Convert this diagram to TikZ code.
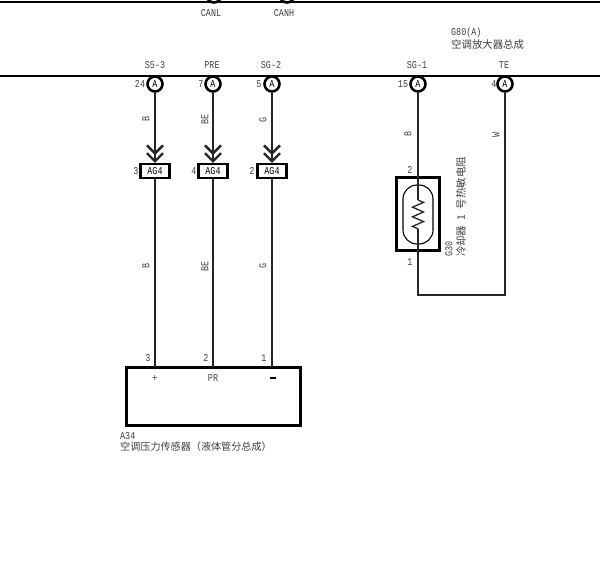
\documentclass[tikz,border=0pt]{standalone}
\usepackage{fontspec}
\setmainfont[FakeStretch=0.8]{Liberation Mono}
\newfontfamily\cjk{Noto Sans CJK SC}
\usetikzlibrary{arrows.meta,decorations.pathmorphing}
\tikzset{
  bus/.style={line width=2.4pt,black},
  wire/.style={line width=1.3pt,black!85},
  plug/.style={wire,-{Straight Barb[length=8pt,width=16pt,line width=2.4pt,sep=-3pt] Straight Barb[length=8pt,width=16pt,line width=2.4pt]}},
  pin/.style={circle,draw,line width=2.6pt,minimum size=15pt,fill=white,font=\fontsize{10.5}{10.5}\selectfont},
  conn/.style={rectangle,draw,line width=2.2pt,minimum width=29pt,minimum height=14pt,fill=white,font=\fontsize{10.5}{10.5}\selectfont},
  txt/.style={font=\fontsize{10.5}{11}\selectfont,black!75},
  cjktxt/.style={font=\fontsize{10.4}{11}\cjk,black!75,anchor=west},
  color code/.style={txt,rotate=90}
}
\begin{document}
\begin{tikzpicture}[x=1pt,y=-1pt]
\tikzstyle{every node}+=[inner sep=0pt]
\useasboundingbox (0,0) rectangle (600,586);
\fill [white] (0,0) rectangle (600,586);
% top edge
\begin{scope}
\clip (0,0) rectangle (600,586);
\node [pin] (canl) at (214,-5) {};
\node [pin] (canh) at (287,-5) {};
\end{scope}
\coordinate (topl) at (0,2);
\coordinate (topr) at (600,2);
\draw [bus] (topl) -- (topr);
\node [txt] (lcanl) at (211,13) {CANL};
\node [txt] (lcanh) at (284,13) {CANH};
% amplifier
\node [txt,anchor=west] (g80) at (451,33) {G80(A)};
\node [cjktxt] (g80name) at (451,45) {空调放大器总成};
\coordinate (busl) at (0,76);
\coordinate (busr) at (600,76);
\draw [bus] (busl) -- (busr);
\node [txt] (ls5) at (155,65) {S5-3};
\node [txt] (lpre) at (212,65) {PRE};
\node [txt] (lsg2) at (271,65) {SG-2};
\node [txt] (lsg1) at (417,65) {SG-1};
\node [txt] (lte) at (504,65) {TE};
\node [pin] (p24) at (155,84) {A};
\node [pin] (p7) at (213,84) {A};
\node [pin] (p5) at (272,84) {A};
\node [pin] (p15) at (418,84) {A};
\node [pin] (p4) at (505,84) {A};
\node [txt] (n24) at (140,84) {24};
\node [txt] (n7) at (201,84) {7};
\node [txt] (n5) at (259,84) {5};
\node [txt] (n15) at (403,84) {15};
\node [txt] (n4) at (494,84) {4};
% connectors
\node [conn] (ag3) at (155,171) {AG4};
\node [conn] (ag4) at (213,171) {AG4};
\node [conn] (ag2) at (272,171) {AG4};
\node [txt] (n3) at (136,171) {3};
\node [txt] (n44) at (194,171) {4};
\node [txt] (n2) at (252,171) {2};
\draw [plug] (p24) -- (ag3);
\draw [plug] (p7) -- (ag4);
\draw [plug] (p5) -- (ag2);
\node [color code] (c1) at (146,119) {B};
\node [color code] (c2) at (205,119) {BE};
\node [color code] (c3) at (263,120) {G};
\node [color code] (c4) at (146,266) {B};
\node [color code] (c5) at (205,266) {BE};
\node [color code] (c6) at (263,266) {G};
\node [color code] (c7) at (408,134) {B};
\node [color code] (c8) at (496,135) {W};
% sensor
\node [rectangle,draw,line width=2.4pt,minimum width=174pt,minimum height=58pt] (a34) at (213.5,396.5) {};
\coordinate (a34p) at (155,367);
\coordinate (a34r) at (213,367);
\coordinate (a34n) at (272,367);
\draw [wire] (ag3) -- (a34p);
\draw [wire] (ag4) -- (a34r);
\draw [wire] (ag2) -- (a34n);
\node [txt] (n31) at (148,358) {3};
\node [txt] (n21) at (206,358) {2};
\node [txt] (n11) at (264,358) {1};
\node [txt] (plus) at (155,378) {+};
\node [txt] (pr) at (213,378) {PR};
\node (minus) at (273,378) {\rule{6pt}{1.2pt}};
\node [txt,anchor=west] (la34) at (120,436) {A34};
\node [cjktxt,font=\fontsize{10.1}{11}\cjk] (a34name) at (120,447) {空调压力传感器（液体管分总成）};
% thermistor
\coordinate (rest) at (418,200);
\coordinate (resb) at (418,229);
\coordinate (corl) at (418,295);
\coordinate (corr) at (505,295);
\node [rectangle,draw,line width=2.4pt,minimum width=43pt,minimum height=73pt] (g30) at (418,214) {};
\node [rectangle,draw,line width=1.1pt,rounded corners=14pt,minimum width=30pt,minimum height=59pt] (caps) at (418,214.5) {};
\draw [wire] (p15) -- (rest);
\draw [wire,decorate,decoration={zigzag,segment length=9.6pt,amplitude=5.5pt}] (rest) -- (resb);
\draw [wire] (resb) -- (corl) -- (corr) -- (p4);
\node [txt] (n22) at (410,170) {2};
\node [txt] (n12) at (410,262) {1};
\node [txt,rotate=90,anchor=west] (g30n) at (449,257) {G30};
\node [cjktxt,rotate=90,anchor=west] (g30name) at (461,257) {冷却器\hspace{3pt} 1\hspace{3pt} 号热敏电阻};
\end{tikzpicture}
\end{document}
